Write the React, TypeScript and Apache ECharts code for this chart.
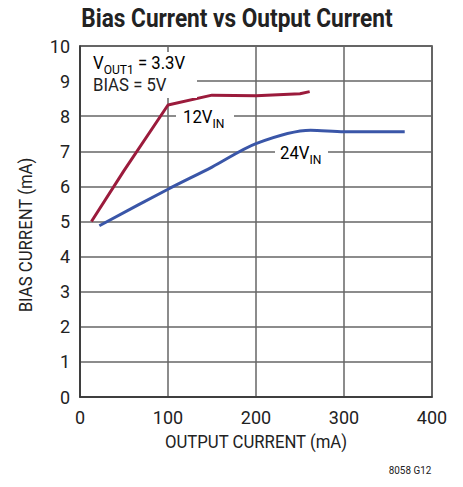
import React, { useEffect, useRef } from "react";
import * as echarts from "echarts";

const xTicks = [0, 100, 200, 300, 400];
const yTicks = [0, 1, 2, 3, 4, 5, 6, 7, 8, 9, 10];
const vin12X = [13, 50, 100, 150, 200, 250, 261];
const vin12Y = [5.0, 6.45, 8.32, 8.6, 8.58, 8.64, 8.7];
const vin24X = [22, 100, 150, 200, 262, 300, 369];
const vin24Y = [4.88, 5.92, 6.55, 7.22, 7.6, 7.56, 7.56];

const FONT = "Roboto, 'Liberation Sans', sans-serif";
const TXT = "#222";

export default function App() {
  const ref = useRef<HTMLDivElement>(null);
  useEffect(() => {
    if (!ref.current) return;
    const chart = echarts.init(ref.current, undefined, { renderer: "svg" });
    const sub = {
      a: { fontSize: 18, fontFamily: FONT, color: TXT },
      s: { fontSize: 13, fontFamily: FONT, color: TXT, verticalAlign: "bottom", padding: [0, 0, -4, 0] },
    };
    chart.setOption({
      animation: false,
      backgroundColor: "#fff",
      grid: {
        left: 80,
        right: 31,
        top: 46,
        bottom: 90,
        show: true,
        borderColor: "#333",
        borderWidth: 1.5,
      },
      xAxis: {
        type: "value",
        min: xTicks[0],
        max: xTicks[xTicks.length - 1],
        interval: 100,
        axisLine: { show: true, lineStyle: { color: "#333", width: 1.5 } },
        axisTick: { show: false },
        splitLine: { show: true, lineStyle: { color: "#666", width: 1.5 } },
        axisLabel: { fontFamily: FONT, fontSize: 18, color: TXT, margin: 11 },
      },
      yAxis: {
        type: "value",
        min: yTicks[0],
        max: yTicks[yTicks.length - 1],
        interval: 1,
        axisLine: { show: true, lineStyle: { color: "#333", width: 1.5 } },
        axisTick: { show: false },
        splitLine: { show: true, lineStyle: { color: "#666", width: 1.5 } },
        axisLabel: { fontFamily: FONT, fontSize: 18, color: TXT, margin: 10 },
      },
      series: [
        {
          name: "12VIN",
          type: "line",
          data: vin12X.map((x, i) => [x, vin12Y[i]]),
          showSymbol: false,
          lineStyle: { color: "#9b1b3c", width: 3 },
          z: 3,
        },
        {
          name: "24VIN",
          type: "line",
          data: vin24X.map((x, i) => [x, vin24Y[i]]),
          showSymbol: false,
          smooth: 0.3,
          lineStyle: { color: "#3a56a8", width: 3 },
          z: 3,
        },
      ],
      graphic: [
        {
          type: "text",
          x: 237,
          y: 18,
          scaleX: 0.87,
          z: 11,
          style: {
            text: "Bias Current vs Output Current",
            fontFamily: FONT,
            fontSize: 26,
            fontWeight: "bold",
            fill: "#222",
            align: "center",
            verticalAlign: "middle",
          },
        },
        {
          type: "rect",
          shape: { x: 81, y: 52, width: 116, height: 46 },
          style: { fill: "#fff" },
          z: 10,
        },
        {
          type: "text",
          x: 93,
          y: 63,
          scaleX: 0.93,
          z: 11,
          style: {
            text: "{a|V}{s|OUT1}{a| = 3.3V}",
            rich: sub,
            verticalAlign: "middle",
          },
        },
        {
          type: "text",
          x: 93,
          y: 85,
          scaleX: 0.93,
          z: 11,
          style: { text: "BIAS = 5V", fontFamily: FONT, fontSize: 18, fill: TXT, verticalAlign: "middle" },
        },
        {
          type: "rect",
          shape: { x: 176, y: 108, width: 58, height: 18 },
          style: { fill: "#fff" },
          z: 10,
        },
        {
          type: "text",
          x: 183,
          y: 117,
          scaleX: 0.93,
          z: 11,
          style: { text: "{a|12V}{s|IN}", rich: sub, verticalAlign: "middle" },
        },
        {
          type: "rect",
          shape: { x: 275, y: 143, width: 53, height: 18 },
          style: { fill: "#fff" },
          z: 10,
        },
        {
          type: "text",
          x: 280,
          y: 153,
          scaleX: 0.93,
          z: 11,
          style: { text: "{a|24V}{s|IN}", rich: sub, verticalAlign: "middle" },
        },
        {
          type: "text",
          x: 256,
          y: 442,
          scaleX: 0.93,
          z: 11,
          style: {
            text: "OUTPUT CURRENT (mA)",
            fontFamily: FONT,
            fontSize: 18,
            fill: TXT,
            align: "center",
            verticalAlign: "middle",
          },
        },
        {
          type: "text",
          x: 26,
          y: 235,
          rotation: Math.PI / 2,
          scaleX: 0.93,
          z: 11,
          style: {
            text: "BIAS CURRENT (mA)",
            fontFamily: FONT,
            fontSize: 18,
            fill: TXT,
            align: "center",
            verticalAlign: "middle",
          },
        },
        {
          type: "text",
          x: 410,
          y: 470,
          scaleX: 0.9,
          z: 11,
          style: {
            text: "8058 G12",
            fontFamily: FONT,
            fontSize: 11,
            fill: TXT,
            align: "center",
            verticalAlign: "middle",
          },
        },
      ],
    });
    return () => chart.dispose();
  }, []);
  return <div ref={ref} style={{ width: 463, height: 487, position: "absolute", left: 0, top: 0 }} />;
}
